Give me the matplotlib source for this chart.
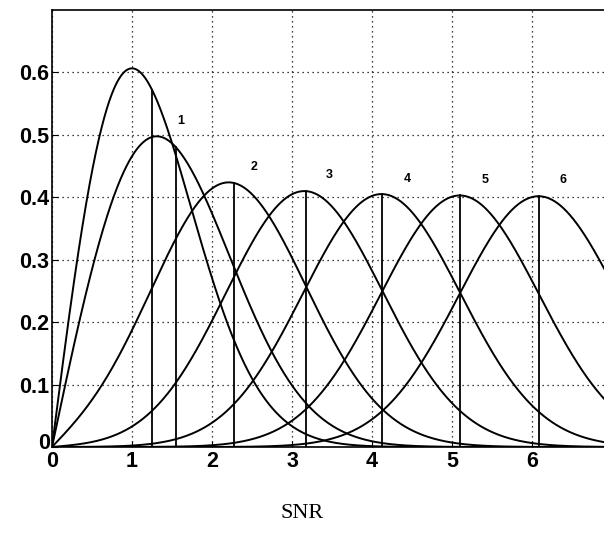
import numpy as np
import matplotlib.pyplot as plt
from matplotlib.transforms import offset_copy

# amplitud de la señal para cada curva de Rice (0 = Rayleigh), sigma = 1
amplitudes = [0, 1, 2, 3, 4, 5, 6]
etiquetas = ['1', '2', '3', '4', '5', '6']
# posicion de cada etiqueta (x, y)
pos_etiquetas = [(1.61, 0.522), (2.52, 0.448), (3.46, 0.435),
                 (4.44, 0.429), (5.41, 0.427), (6.39, 0.427)]

x = np.linspace(0, 7.2, 1500)
# rango amplio solo para calcular la media
xm = np.linspace(0, 20, 8000)


def rice(x, a):
    return x * np.exp(-(x ** 2 + a ** 2) / 2) * np.i0(x * a)


fig = plt.figure(figsize=(6.04, 5.49), dpi=100)
ax = fig.add_axes([52 / 604, 102 / 549, 560 / 604, 437 / 549])

for a in amplitudes:
    ax.plot(x, rice(x, a), color='black', lw=1.4)
    # linea vertical en la media de la distribucion
    pm = rice(xm, a)
    media = np.trapezoid(xm * pm, xm) / np.trapezoid(pm, xm)
    ax.plot([media, media], [0, rice(media, a)], color='black', lw=1.3)

for txt, (tx, ty) in zip(etiquetas, pos_etiquetas):
    ax.text(tx, ty, txt, fontsize=9, fontweight='bold',
            family='Liberation Sans', ha='center', va='center')

ax.set_xlim(0, 7)
ax.set_ylim(0, 0.7)
ax.set_xticks(range(0, 7))
ax.set_yticks([0, 0.1, 0.2, 0.3, 0.4, 0.5, 0.6])
ax.set_yticklabels(['0', '0.1', '0.2', '0.3', '0.4', '0.5', '0.6'])
ax.grid(True, color='black', linestyle=(0, (1, 3)), lw=0.9)
ax.tick_params(direction='in', length=4, labelsize=15.5, pad=2)
ax.tick_params(axis='x', pad=3)
for lab in ax.get_xticklabels() + ax.get_yticklabels():
    lab.set_family('Liberation Sans')
    lab.set_fontweight('bold')
# el cero del eje y un poco mas arriba
cero = ax.get_yticklabels()[0]
cero.set_transform(offset_copy(cero.get_transform(), fig=fig, x=1, y=6, units='dots'))
for s in ax.spines.values():
    s.set_linewidth(1.2)

fig.text(302 / 604, 1 - 513 / 549, 'SNR', family='Liberation Serif',
         fontsize=16, ha='center', va='center')

fig.savefig('out.png', dpi=100)
